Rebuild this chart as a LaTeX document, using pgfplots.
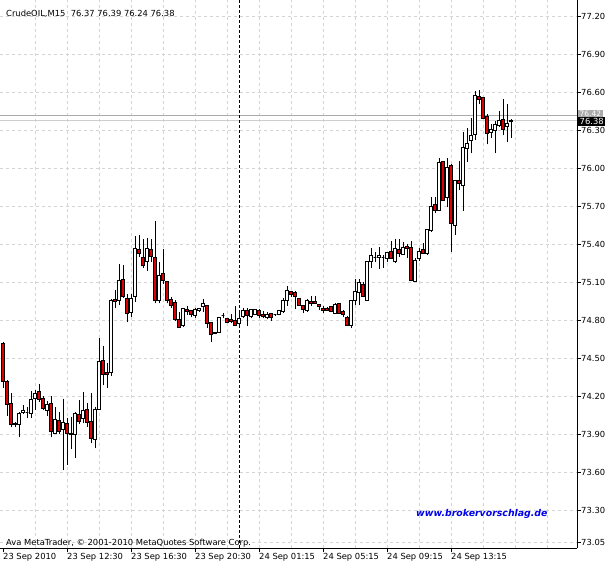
\documentclass[border=0pt]{standalone}
\usepackage{pgfplots}
\pgfplotsset{compat=1.18}
\usepackage{pgfplotstable}
\usepackage{fontspec}
\setmainfont{DejaVu Sans}
\definecolor{cred}{RGB}{220,0,0}
\definecolor{gridc}{RGB}{212,212,212}
\definecolor{wwwblue}{RGB}{0,0,235}
\definecolor{askc}{RGB}{170,170,170}
\definecolor{bidc}{RGB}{205,205,205}

% 15-minute bars: index, open, high, low, close
\pgfplotstableread{
i o h l c
0 74.620 74.630 74.265 74.317
1 74.322 74.330 74.049 74.138
2 74.149 74.225 73.957 73.983
3 73.991 74.000 73.957 73.978
4 73.980 74.075 73.883 74.070
5 74.072 74.133 74.059 74.091
6 74.078 74.115 74.033 74.078
7 74.067 74.243 74.033 74.178
8 74.186 74.250 74.094 74.228
9 74.241 74.299 74.159 74.178
10 74.186 74.207 74.091 74.107
11 74.094 74.162 74.049 74.141
12 74.146 74.207 73.883 73.922
13 73.909 74.120 73.901 74.020
14 74.012 74.080 73.901 73.922
15 73.941 74.180 73.620 73.996
16 73.988 74.028 73.659 73.909
17 73.912 74.040 73.783 73.901
18 73.901 74.080 73.717 74.067
19 74.059 74.172 73.980 74.007
20 74.028 74.238 73.988 74.091
21 74.099 74.146 73.962 73.993
22 74.007 74.225 73.830 73.870
23 73.862 74.120 73.791 74.101
24 74.101 74.660 74.093 74.478
25 74.486 74.599 74.288 74.375
26 74.391 74.462 74.265 74.375
27 74.388 74.970 74.365 74.962
28 74.967 75.040 74.896 74.954
29 74.962 75.250 74.922 75.117
30 75.128 75.238 74.975 74.988
31 74.975 75.007 74.786 74.857
32 74.865 75.007 74.830 74.975
33 74.988 75.470 74.949 75.370
34 75.365 75.475 75.304 75.330
35 75.296 75.444 75.217 75.233
36 75.270 75.449 75.191 75.370
37 75.365 75.444 75.265 75.304
38 75.296 75.586 74.936 74.962
39 74.957 75.265 74.936 75.159
40 75.172 75.362 75.086 75.117
41 75.107 75.107 74.936 74.959
42 74.970 74.986 74.896 74.922
43 74.941 74.962 74.796 74.812
44 74.810 74.870 74.744 74.744
45 74.759 74.901 74.751 74.894
46 74.888 74.917 74.844 74.870
47 74.878 74.883 74.825 74.849
48 74.844 74.901 74.822 74.888
49 74.880 74.901 74.870 74.896
50 74.909 74.970 74.870 74.933
51 74.922 74.922 74.744 74.778
52 74.786 74.786 74.633 74.691
53 74.709 74.709 74.691 74.696
54 74.707 74.830 74.700 74.825
55 74.843 74.857 74.817 74.843
56 74.817 74.820 74.780 74.786
57 74.807 74.849 74.778 74.796
58 74.804 74.915 74.760 74.765
59 74.780 74.880 74.750 74.820
60 74.830 74.901 74.817 74.878
61 74.878 74.896 74.757 74.838
62 74.836 74.888 74.817 74.888
63 74.851 74.893 74.843 74.888
64 74.880 74.888 74.817 74.841
65 74.851 74.875 74.817 74.836
66 74.825 74.870 74.809 74.851
67 74.857 74.857 74.799 74.822
68 74.846 74.850 74.836 74.846
69 74.849 74.883 74.841 74.877
70 74.875 74.975 74.862 74.962
71 74.962 75.072 74.917 75.041
72 75.030 75.036 74.988 75.010
73 75.025 75.030 74.888 74.993
74 74.975 74.980 74.915 74.922
75 74.917 74.922 74.857 74.888
76 74.878 74.972 74.870 74.962
77 74.954 74.996 74.915 74.936
78 74.954 74.993 74.930 74.936
79 74.930 74.930 74.883 74.915
80 74.894 74.915 74.857 74.880
81 74.899 74.909 74.878 74.883
82 74.909 74.915 74.870 74.870
83 74.857 74.935 74.857 74.930
84 74.936 74.936 74.851 74.857
85 74.870 74.883 74.825 74.851
86 74.825 74.836 74.759 74.759
87 74.759 74.962 74.738 74.956
88 74.962 75.125 74.922 75.030
89 75.020 75.128 74.920 75.101
90 75.086 75.101 74.988 74.993
91 74.962 75.270 74.957 75.270
92 75.265 75.370 75.212 75.312
93 75.300 75.338 75.265 75.300
94 75.299 75.383 75.207 75.317
95 75.296 75.320 75.217 75.296
96 75.291 75.343 75.264 75.338
97 75.349 75.430 75.291 75.291
98 75.264 75.443 75.256 75.369
99 75.364 75.443 75.304 75.330
100 75.322 75.417 75.317 75.375
101 75.388 75.401 75.290 75.369
102 75.375 75.427 75.112 75.120
103 75.112 75.296 75.106 75.278
104 75.291 75.369 75.270 75.343
105 75.362 75.409 75.322 75.327
106 75.330 75.522 75.317 75.522
107 75.509 75.777 75.501 75.704
108 75.720 75.777 75.646 75.670
109 75.672 76.085 75.664 76.048
110 76.059 76.059 75.746 75.746
111 75.772 76.085 75.693 76.006
112 76.022 76.033 75.343 75.567
113 75.554 75.904 75.475 75.904
114 75.909 76.059 75.830 75.883
115 75.864 76.291 75.664 76.167
116 76.159 76.322 76.054 76.198
117 76.219 76.396 76.120 76.264
118 76.270 76.612 76.225 76.580
119 76.572 76.620 76.506 76.546
120 76.562 76.562 76.396 76.396
121 76.414 76.427 76.190 76.277
122 76.285 76.348 76.238 76.309
123 76.304 76.375 76.120 76.348
124 76.343 76.454 76.330 76.383
125 76.388 76.548 76.264 76.312
126 76.330 76.506 76.206 76.356
127 76.370 76.390 76.240 76.380
}\candles

% convert a (possibly FPU-formatted) number into a fixed-point macro
\newcommand\tofixed[2]{%
  \pgfkeys{/pgf/fpu=true,/pgf/fpu/output format=fixed}%
  \pgfmathparse{#1}\global\let#2\pgfmathresult
  \pgfkeys{/pgf/fpu=false}}

% scale: 126.67 bp per 1.00 price unit (548bp axis height for 73.0041..77.3303)
\pgfdeclareplotmark{wick}{%
  \tofixed{\wkraw}{\wkh}%
  \pgfsetlinewidth{1bp}%
  \pgfpathmoveto{\pgfpointorigin}%
  \pgfpathlineto{\pgfpoint{0pt}{\wkh bp}}%
  \pgfusepathqstroke}
\pgfdeclareplotmark{candle}{%
  \tofixed{\bdraw}{\bdh}%
  \ifdim\bdh pt<0pt \pgfsetfillcolor{cred}\else\pgfsetfillcolor{white}\fi
  \pgfsetstrokecolor{black}%
  \pgfsetlinewidth{0.7bp}%
  \pgfpathrectangle{\pgfpoint{-1.3bp}{0pt}}{\pgfpoint{2.6bp}{\bdh bp}}%
  \pgfusepath{fill,stroke}}

\begin{document}
\begin{tikzpicture}
\useasboundingbox (0,-18bp) rectangle (615bp,548bp);
\begin{axis}[
  at={(0,0)}, anchor=south west,
  scale only axis, width=577bp, height=548bp,
  xmin=-0.75, xmax=143.5, ymin=73.0041, ymax=77.3303,
  axis x line*=bottom, axis y line*=right,
  axis line style={black, line width=1bp},
  xtick={0,16,...,112},
  xticklabels={23 Sep 2010,23 Sep 12:30,23 Sep 16:30,23 Sep 20:30,24 Sep 01:15,24 Sep 05:15,24 Sep 09:15,24 Sep 13:15},
  minor xtick={8,16,...,136},
  ytick={73.05,73.3,73.6,73.9,74.2,74.5,74.8,75.1,75.4,75.7,76.0,76.3,76.6,76.9,77.2},
  yticklabels={73.05,73.30,73.60,73.90,74.20,74.50,74.80,75.10,75.40,75.70,76.00,76.30,76.60,76.90,77.20},
  xmajorgrids=false, xminorgrids=true, ymajorgrids=true,
  major grid style={gridc, dash pattern=on 3bp off 3bp, line width=0.9bp},
  minor grid style={gridc, dash pattern=on 3bp off 3bp, line width=0.9bp},
  tick align=outside, major tick length=4bp, minor tick length=0pt,
  tick style={black, line width=1bp},
  tick label style={font=\fontsize{8.4}{10}\selectfont, inner sep=0pt},
  xticklabel style={anchor=north west, yshift=-1bp, xshift=0bp},
  yticklabel style={anchor=west, xshift=0bp},
]
\addplot[askc, line width=1bp] coordinates {(-0.75,76.42) (143.5,76.42)};
\addplot[bidc, line width=1bp] coordinates {(-0.75,76.38) (143.5,76.38)};
\addplot[black, line width=1bp, dash pattern=on 3bp off 2bp] coordinates {(59,73.0041) (59,77.3303)};
\addplot[black, only marks, mark=wick, mark options={draw=black, line width=1bp},
  visualization depends on={(\thisrow{h}-\thisrow{l})*126.67 \as \wkraw}]
  table[x=i, y=l] {\candles};
\addplot[black, only marks, mark=candle, mark options={draw=black, line width=0.7bp},
  visualization depends on={(\thisrow{c}-\thisrow{o})*126.67 \as \bdraw}]
  table[x=i, y=o] {\candles};
\end{axis}
\node[anchor=base west, inner sep=0pt, font=\fontsize{8.4}{10}\selectfont] at (6bp,531bp) {CrudeOIL,M15\ \ 76.37 76.39 76.24 76.38};
\node[anchor=base west, inner sep=0pt, font=\fontsize{8.4}{10}\selectfont] at (6bp,3bp) {Ava MetaTrader, © 2001-2010 MetaQuotes Software Corp.};
\node[anchor=base west, inner sep=0pt, text=wwwblue, font=\fontsize{9.4}{11}\bfseries\itshape\selectfont] at (416bp,32bp) {www.brokervorschlag.de};
\node[anchor=west, fill=askc, text=white, inner xsep=1.5bp, inner ysep=1.2bp, font=\fontsize{7.5}{9}\selectfont] at (578bp,434bp) {76.42};
\node[anchor=west, fill=black, text=white, inner xsep=1.5bp, inner ysep=1.5bp, font=\fontsize{8.4}{10}\selectfont] at (578bp,426.6bp) {76.38};
\end{tikzpicture}
\end{document}
